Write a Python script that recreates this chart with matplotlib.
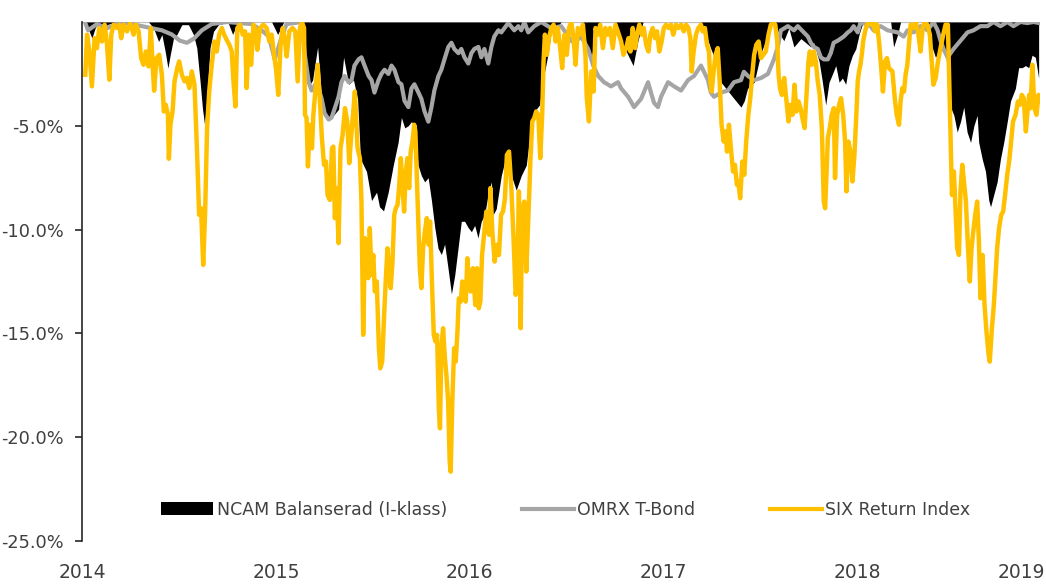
import matplotlib
matplotlib.use("Agg")
import matplotlib.pyplot as plt
from matplotlib.patches import Patch
from matplotlib.lines import Line2D

# ---------------- data (decimal year, drawdown in %) ----------------
ncam_x = [2014.000, 2014.017, 2014.051, 2014.068, 2014.086, 2014.112, 2014.129, 2014.171, 2014.343, 2014.369,
          2014.395, 2014.412, 2014.429, 2014.443, 2014.455, 2014.472, 2014.489, 2014.515, 2014.549, 2014.575,
          2014.592, 2014.609, 2014.621, 2014.632, 2014.644, 2014.660, 2014.678, 2014.704, 2014.752, 2014.777,
          2014.803, 2014.978, 2015.009, 2015.040, 2015.133, 2015.148, 2015.169, 2015.189, 2015.215, 2015.236,
          2015.266, 2015.297, 2015.323, 2015.349, 2015.375, 2015.400, 2015.421, 2015.436, 2015.467, 2015.493,
          2015.519, 2015.534, 2015.555, 2015.579, 2015.605, 2015.630, 2015.647, 2015.664, 2015.682, 2015.699,
          2015.716, 2015.733, 2015.750, 2015.767, 2015.785, 2015.802, 2015.819, 2015.836, 2015.853, 2015.870,
          2015.888, 2015.905, 2015.922, 2015.939, 2015.956, 2015.973, 2015.991, 2016.008, 2016.025, 2016.042,
          2016.059, 2016.076, 2016.094, 2016.111, 2016.119, 2016.136, 2016.162, 2016.188, 2016.214, 2016.239,
          2016.265, 2016.291, 2016.317, 2016.342, 2016.359, 2016.377, 2016.404, 2016.420, 2016.435, 2016.471,
          2016.584, 2016.600, 2016.625, 2016.651, 2016.670, 2016.754, 2016.780, 2016.816, 2016.842, 2016.867,
          2016.893, 2017.192, 2017.217, 2017.243, 2017.278, 2017.295, 2017.329, 2017.363, 2017.398, 2017.415,
          2017.432, 2017.466, 2017.501, 2017.537, 2017.562, 2017.578, 2017.619, 2017.645, 2017.671, 2017.707,
          2017.758, 2017.774, 2017.801, 2017.818, 2017.835, 2017.852, 2017.870, 2017.887, 2017.904, 2017.921,
          2017.938, 2017.955, 2017.973, 2017.990, 2018.007, 2018.024, 2018.041, 2018.170, 2018.185, 2018.206,
          2018.221, 2018.350, 2018.376, 2018.401, 2018.427, 2018.453, 2018.470, 2018.479, 2018.496, 2018.513,
          2018.530, 2018.547, 2018.564, 2018.582, 2018.599, 2018.616, 2018.624, 2018.642, 2018.659, 2018.676,
          2018.685, 2018.702, 2018.719, 2018.736, 2018.753, 2018.771, 2018.788, 2018.813, 2018.830, 2018.848,
          2018.865, 2018.882, 2018.899, 2018.916, 2018.933]
ncam_y = [0, 0, -0.77, -0.29, 0, -0.77, -0.13, 0, 0, -0.29,
          -0.94, -0.61, -1.42, -2.22, -1.58, -0.77, -0.61, -0.13, -0.13, -0.61,
          -1.26, -2.87, -4.15, -4.95, -3.67, -1.26, -0.45, -0.13, 0, -0.6,
          0, 0, -0.6, 0, 0, -2.3, -3.1, -2.8, -1.2, -3.7,
          -4.7, -4.5, -4.2, -1.7, -3.0, -2.8, -3.7, -6.6, -7.2, -8.6,
          -8.2, -8.9, -9.1, -8.2, -6.9, -5.8, -4.6, -5.1, -5.0, -4.8,
          -5.0, -6.9, -7.4, -7.7, -7.5, -8.6, -9.9, -10.9, -11.2, -10.7,
          -11.9, -13.1, -12.2, -10.9, -9.6, -9.6, -9.9, -10.1, -9.8, -10.4,
          -9.6, -9.3, -8.3, -7.7, -9.3, -9.0, -7.4, -6.4, -7.4, -8.1,
          -7.4, -6.9, -4.9, -4.2, -4.0, -2.8, -1.5, -0.4, -0.4, 0,
          0, -1.1, -1.8, -0.4, 0, 0, -0.9, -1.6, -2.1, -0.9,
          0, 0, -0.6, -1.3, -2.1, -2.9, -3.3, -3.7, -4.1, -3.8,
          -3.2, -2.9, -1.5, -0.6, 0, -0.3, -0.9, -0.3, -1.2, -0.8,
          -1.2, -1.0, -1.9, -2.9, -4.0, -2.9, -2.5, -2.1, -2.9, -2.7,
          -3.0, -2.1, -1.6, -1.3, -0.6, -0.1, 0, 0, -1.2, -0.6,
          0, 0, -1.0, -1.7, -1.3, -1.5, -2.9, -4.1, -4.5, -5.3,
          -4.8, -4.1, -5.3, -5.8, -5.0, -4.5, -5.8, -6.6, -7.2, -8.6,
          -8.9, -8.3, -7.7, -6.6, -5.8, -4.8, -3.8, -3.2, -2.2, -2.2,
          -2.1, -2.2, -1.6, -1.7, -2.7]

omrx_x = [2014.015, 2014.031, 2014.077, 2014.129, 2014.206, 2014.309, 2014.412, 2014.463, 2014.505, 2014.541,
          2014.577, 2014.618, 2014.669, 2014.746, 2014.875, 2014.927, 2014.963, 2014.994, 2015.030, 2015.055,
          2015.133, 2015.148, 2015.169, 2015.184, 2015.210, 2015.236, 2015.251, 2015.272, 2015.287, 2015.302,
          2015.323, 2015.338, 2015.354, 2015.375, 2015.390, 2015.405, 2015.426, 2015.441, 2015.457, 2015.478,
          2015.493, 2015.508, 2015.529, 2015.544, 2015.560, 2015.580, 2015.596, 2015.611, 2015.632, 2015.647,
          2015.663, 2015.683, 2015.699, 2015.714, 2015.735, 2015.750, 2015.766, 2015.786, 2015.802, 2015.817,
          2015.838, 2015.853, 2015.869, 2015.889, 2015.905, 2015.920, 2015.941, 2015.956, 2015.972, 2015.992,
          2016.008, 2016.023, 2016.044, 2016.059, 2016.075, 2016.095, 2016.111, 2016.126, 2016.147, 2016.162,
          2016.198, 2016.229, 2016.250, 2016.265, 2016.281, 2016.301, 2016.332, 2016.368, 2016.420, 2016.471,
          2016.523, 2016.538, 2016.574, 2016.610, 2016.636, 2016.662, 2016.692, 2016.728, 2016.764, 2016.780,
          2016.816, 2016.847, 2016.883, 2016.919, 2016.934, 2016.950, 2016.970, 2016.986, 2017.022, 2017.053,
          2017.089, 2017.125, 2017.156, 2017.192, 2017.228, 2017.243, 2017.259, 2017.295, 2017.331, 2017.362,
          2017.398, 2017.413, 2017.434, 2017.465, 2017.501, 2017.537, 2017.568, 2017.588, 2017.604, 2017.640,
          2017.671, 2017.691, 2017.722, 2017.743, 2017.758, 2017.774, 2017.794, 2017.810, 2017.825, 2017.846,
          2017.861, 2017.876, 2017.897, 2017.928, 2017.949, 2017.964, 2017.979, 2018.000, 2018.015, 2018.067,
          2018.082, 2018.118, 2018.154, 2018.206, 2018.237, 2018.257, 2018.288, 2018.324, 2018.360, 2018.391,
          2018.412, 2018.427, 2018.443, 2018.463, 2018.479, 2018.494, 2018.530, 2018.566, 2018.597, 2018.633,
          2018.669, 2018.700, 2018.736, 2018.772, 2018.803, 2018.839, 2018.875, 2018.906, 2018.937]
omrx_y = [0, -0.4, -0.1, -0.3, 0, -0.2, -0.4, -0.6, -0.9, -1.0,
          -0.8, -0.4, -0.1, 0, -0.1, -0.4, -0.7, -1.8, -0.7, -0.1,
          0, -1.5, -2.9, -3.3, -2.9, -3.7, -4.4, -4.7, -4.6, -4.2,
          -3.6, -2.9, -2.6, -2.9, -2.8, -2.1, -1.8, -1.7, -2.1, -2.6,
          -2.8, -3.4, -2.8, -2.5, -2.3, -2.5, -2.1, -2.3, -2.9, -3.0,
          -3.8, -4.1, -3.2, -3.0, -3.4, -3.7, -4.3, -4.8, -4.1, -3.3,
          -2.6, -2.3, -1.8, -1.2, -1.0, -1.3, -1.5, -1.3, -1.7, -2.0,
          -1.5, -1.3, -1.2, -1.7, -1.3, -2.0, -1.2, -0.7, -0.4, -0.5,
          -0.05, -0.4, -0.2, -0.4, 0, -0.5, -0.2, 0, -0.3, -0.2,
          -0.9, -1.0, -0.7, -1.3, -2.1, -2.6, -2.9, -3.1, -2.9, -3.2,
          -3.6, -4.1, -3.7, -2.9, -3.4, -3.9, -4.1, -3.6, -2.9, -3.1,
          -3.3, -2.8, -2.6, -2.1, -2.8, -3.4, -3.6, -3.4, -3.3, -2.9,
          -2.8, -2.4, -2.6, -2.8, -2.7, -2.5, -1.8, -1.2, -0.4, -0.2,
          -0.4, -0.2, -0.5, -0.7, -1.0, -1.2, -1.3, -1.7, -1.8, -1.8,
          -1.5, -1.0, -0.9, -0.7, -0.5, -0.4, -0.2, -0.5, 0, -0.2,
          -0.4, -0.2, -0.4, -0.5, -0.7, -0.4, -0.5, -0.2, -0.4, 0,
          -0.4, -0.9, -1.3, -1.7, -1.5, -1.3, -0.9, -0.5, -0.4, -0.2,
          -0.2, 0, -0.2, 0, -0.2, 0, -0.05, 0, -0.05]

six_x = [
    2014.017, 2014.026, 2014.038, 2014.051, 2014.065, 2014.077, 2014.089, 2014.103, 2014.117, 2014.129,
    2014.141, 2014.151, 2014.163, 2014.180, 2014.192, 2014.202, 2014.215, 2014.232, 2014.249, 2014.266,
    2014.278, 2014.292, 2014.305, 2014.317, 2014.329, 2014.343, 2014.355, 2014.364, 2014.372, 2014.384,
    2014.398, 2014.412, 2014.422, 2014.432, 2014.443, 2014.448, 2014.456, 2014.467, 2014.477, 2014.491,
    2014.501, 2014.515, 2014.529, 2014.541, 2014.553, 2014.566, 2014.580, 2014.592, 2014.604, 2014.614,
    2014.625, 2014.635, 2014.645, 2014.656, 2014.669, 2014.683, 2014.695, 2014.707, 2014.721,
    2014.733, 2014.746, 2014.760, 2014.772, 2014.781, 2014.791, 2014.801, 2014.815, 2014.829, 2014.841,
    2014.849, 2014.860, 2014.872, 2014.884, 2014.897, 2014.904, 2014.918, 2014.935, 2014.952, 2014.966,
    2014.978, 2014.990, 2015.000, 2015.012, 2015.024, 2015.035, 2015.047, 2015.055, 2015.069, 2015.086,
    2015.100, 2015.112, 2015.124, 2015.134, 2015.145, 2015.150, 2015.158, 2015.165, 2015.175, 2015.186,
    2015.193, 2015.203, 2015.215, 2015.227, 2015.237, 2015.248, 2015.258, 2015.266, 2015.278, 2015.289,
    2015.296, 2015.304, 2015.313, 2015.323, 2015.333, 2015.344, 2015.356, 2015.368, 2015.378, 2015.390,
    2015.399,
    2015.407, 2015.421, 2015.433, 2015.441, 2015.450, 2015.459, 2015.467, 2015.476, 2015.484, 2015.493,
    2015.502, 2015.510, 2015.520, 2015.531, 2015.538, 2015.548, 2015.558, 2015.567, 2015.575, 2015.584,
    2015.592, 2015.601, 2015.610, 2015.618, 2015.627, 2015.635, 2015.644, 2015.653, 2015.661, 2015.670,
    2015.678, 2015.687, 2015.695, 2015.704, 2015.713, 2015.719, 2015.726, 2015.733, 2015.742, 2015.750,
    2015.759, 2015.768, 2015.778, 2015.788, 2015.795, 2015.805, 2015.814, 2015.822, 2015.831, 2015.840,
    2015.846, 2015.853, 2015.862, 2015.870, 2015.879, 2015.888, 2015.896, 2015.901, 2015.910, 2015.919,
    2015.927, 2015.936, 2015.943, 2015.953, 2015.961, 2015.970, 2015.979, 2015.987, 2015.996, 2016.004,
    2016.016, 2016.028, 2016.037, 2016.046, 2016.054, 2016.063, 2016.073, 2016.085,
    2016.099, 2016.106, 2016.116, 2016.128, 2016.140, 2016.150, 2016.161, 2016.171, 2016.181, 2016.191,
    2016.202, 2016.214, 2016.226, 2016.236, 2016.243, 2016.253, 2016.262, 2016.270, 2016.281, 2016.291,
    2016.301, 2016.312, 2016.322, 2016.332, 2016.342, 2016.353, 2016.363, 2016.373, 2016.380, 2016.387,
    2016.397, 2016.408, 2016.420, 2016.432, 2016.442, 2016.454, 2016.466, 2016.476, 2016.488, 2016.500,
    2016.511, 2016.523, 2016.535, 2016.545, 2016.557, 2016.569, 2016.583, 2016.596, 2016.603, 2016.614,
    2016.626, 2016.638, 2016.648, 2016.660, 2016.672, 2016.686, 2016.699, 2016.711, 2016.723, 2016.737,
    2016.751, 2016.763, 2016.780, 2016.792, 2016.806,
    2016.818, 2016.828, 2016.840, 2016.852, 2016.862, 2016.874, 2016.886, 2016.897, 2016.909, 2016.921,
    2016.931, 2016.943, 2016.955, 2016.965, 2016.977, 2016.989, 2017.000, 2017.012, 2017.024, 2017.037,
    2017.049, 2017.063, 2017.075, 2017.089, 2017.103, 2017.115, 2017.127, 2017.137, 2017.144, 2017.154,
    2017.166, 2017.178, 2017.192, 2017.200, 2017.212, 2017.223, 2017.233, 2017.240, 2017.247, 2017.257,
    2017.267, 2017.278, 2017.288, 2017.298, 2017.309, 2017.319, 2017.326, 2017.336, 2017.346, 2017.357,
    2017.367, 2017.377, 2017.384, 2017.394, 2017.405, 2017.415, 2017.425, 2017.436, 2017.446, 2017.456,
    2017.466, 2017.477,
    2017.489, 2017.501, 2017.513, 2017.526, 2017.540, 2017.552, 2017.564, 2017.575, 2017.585, 2017.592,
    2017.599, 2017.609, 2017.621, 2017.633, 2017.643, 2017.653, 2017.664, 2017.674, 2017.684, 2017.695,
    2017.705, 2017.715, 2017.726, 2017.736, 2017.746, 2017.753, 2017.763, 2017.774, 2017.784, 2017.794,
    2017.804, 2017.815, 2017.825, 2017.832, 2017.839, 2017.846, 2017.856, 2017.866, 2017.877, 2017.883,
    2017.894, 2017.904, 2017.914, 2017.925, 2017.935, 2017.942, 2017.952, 2017.962, 2017.973, 2017.983,
    2017.993, 2018.000, 2018.007, 2018.014, 2018.021, 2018.028, 2018.038, 2018.048, 2018.058, 2018.069,
    2018.079, 2018.089, 2018.100, 2018.110, 2018.120, 2018.130, 2018.141, 2018.151, 2018.161,
    2018.179, 2018.191, 2018.201, 2018.213, 2018.221, 2018.230, 2018.239, 2018.247, 2018.256, 2018.264,
    2018.273, 2018.287, 2018.299, 2018.311, 2018.324, 2018.335, 2018.345, 2018.359, 2018.372, 2018.383,
    2018.390, 2018.402, 2018.414, 2018.427, 2018.441, 2018.453, 2018.465, 2018.472, 2018.479, 2018.486,
    2018.496, 2018.505, 2018.513, 2018.522, 2018.530, 2018.539, 2018.548, 2018.558, 2018.568, 2018.578,
    2018.587, 2018.596, 2018.606, 2018.616, 2018.625, 2018.633, 2018.644, 2018.654, 2018.664, 2018.675,
    2018.681, 2018.692, 2018.702, 2018.711, 2018.719, 2018.729, 2018.740, 2018.750, 2018.760, 2018.771,
    2018.781, 2018.791, 2018.801, 2018.814, 2018.826, 2018.836, 2018.846, 2018.856, 2018.867, 2018.874,
    2018.884, 2018.891, 2018.901, 2018.911, 2018.922, 2018.932, 2018.939]
six_y = [
    -2.54, -0.61, -1.42, -3.10, -0.78, -1.26, -0.29, -0.94, -0.13, -1.10,
    -2.78, -0.61, -0.13, -0.29, -0.13, -0.78, -0.13, -0.45, -0.05, -0.61,
    -0.13, -0.45, -1.74, -2.06, -1.42, -2.14, -0.29, -2.06, -3.31, -1.74,
    -1.58, -2.54, -4.31, -3.99, -4.47, -6.59, -4.95, -4.31, -2.86, -2.22,
    -1.90, -2.54, -2.86, -2.70, -3.18, -2.38, -3.02, -5.92, -9.29, -8.97,
    -11.70, -9.13, -5.11, -3.35, -2.06, -0.94, -1.42, -0.61, -0.29,
    -0.61, -0.86, -1.10, -1.42, -2.86, -4.07, -0.29, -0.13, -0.61, -0.45,
    -3.18, -0.61, -2.06, -0.13, -0.45, -1.34, -0.29, -0.13, -0.29, -0.94,
    -0.61, -1.58, -2.22, -3.51, -1.10, -0.29, -0.94, -1.66, -0.45, -0.29,
    -0.45, -2.86, -0.29, 0.0, -0.29, -4.47, -4.63, -6.96, -4.95, -6.08,
    -4.47, -3.35, -2.06, -3.83, -5.59, -6.88, -6.72, -8.33, -8.57, -6.08,
    -6.00, -9.45, -8.00, -10.65, -6.08, -5.43, -4.15, -4.79, -6.80, -5.27,
    -4.31,
    -3.35, -6.08, -6.56, -8.65, -15.07, -10.41, -10.90, -12.34, -9.93, -12.18,
    -11.22, -12.98, -12.50, -15.71, -16.68, -16.36, -14.11, -12.34, -10.90, -12.02,
    -12.82, -11.54, -9.29, -8.97, -8.81, -8.00, -6.56, -8.00, -9.13, -7.20,
    -6.56, -8.00, -6.24, -5.76, -4.95, -5.27, -7.36, -9.29, -11.86, -12.82,
    -10.90, -10.09, -9.45, -10.73, -9.61, -12.66, -15.07, -15.39, -15.07, -18.61,
    -19.57, -15.71, -14.75, -16.03, -17.00, -18.28, -21.18, -21.66, -18.12, -15.71,
    -16.36, -14.91, -13.31, -13.47, -12.50, -13.31, -13.47, -11.38, -12.50, -12.98,
    -11.86, -13.63, -11.86, -13.79, -13.47, -11.22, -10.25, -9.13,
    -10.25, -8.00, -10.09, -11.54, -10.73, -11.22, -9.29, -9.13, -8.49, -6.40,
    -6.24, -8.00, -10.58, -13.14, -12.82, -8.16, -14.75, -8.97, -8.65, -12.02,
    -9.61, -6.72, -4.79, -4.63, -4.31, -4.47, -6.56, -4.47, -1.90, -0.61,
    -1.58, -0.78, -0.29, -0.13, -0.94, -0.29, -1.26, -2.22, -0.61, -1.58,
    -0.29, 0.0, -0.78, -2.06, -0.29, -0.61, -0.13, -1.58, -3.67, -4.79,
    -2.38, -3.35, -0.29, -0.61, -0.13, -1.26, -0.29, -0.61, -0.29, -1.26,
    -0.13, -0.45, -0.94, -1.58, -1.26,
    -0.78, -1.42, -0.29, -1.26, -0.61, -0.13, -0.61, -0.29, -1.10, -1.42,
    -0.61, -0.29, -0.78, -0.45, -1.42, -0.94, -0.29, -0.13, -0.29, -0.13,
    -0.61, -0.13, -0.29, -0.13, -0.45, -0.13, -0.29, -0.78, -2.38, -1.42,
    -0.61, -0.29, -0.13, -0.45, -0.29, -1.10, -1.42, -2.86, -3.35, -2.38,
    -1.58, -1.26, -2.86, -4.95, -5.76, -5.27, -6.24, -4.95, -6.08, -7.20,
    -6.88, -7.84, -7.68, -8.49, -6.72, -7.36, -5.76, -4.47, -3.67, -2.54,
    -1.58, -1.10,
    -0.94, -1.74, -1.58, -1.42, -0.61, -0.13, 0.0, -0.13, -0.94, -2.54,
    -3.18, -3.51, -2.70, -3.83, -4.79, -3.99, -4.47, -3.02, -4.31, -3.83,
    -4.15, -4.63, -5.11, -3.51, -1.90, -1.42, -2.06, -1.42, -1.90, -2.86,
    -3.51, -5.11, -8.65, -8.97, -7.36, -5.59, -5.11, -4.47, -4.15, -7.52,
    -4.47, -3.99, -3.67, -4.47, -5.76, -8.16, -5.76, -6.24, -7.68, -6.40,
    -4.47, -2.86, -2.38, -2.06, -1.58, -0.94, -0.45, -0.13, 0.0, -0.13,
    0.0, -0.45, -0.13, -0.94, -2.06, -3.35, -1.90, -1.74, -2.22,
    -2.38, -3.67, -4.47, -4.95, -3.83, -3.18, -3.35, -2.54, -2.06, -1.10,
    -0.13, -0.29, 0.0, -0.45, -1.42, -0.29, 0.0, -0.13, -0.61, -2.06,
    -3.02, -2.70, -1.90, -1.26, -0.61, -0.13, -0.13, -2.86, -5.76, -8.33,
    -7.20, -9.13, -10.90, -11.22, -8.16, -6.88, -7.68, -8.65, -10.73, -12.50,
    -10.90, -10.09, -9.29, -8.65, -10.58, -13.31, -11.22, -13.63, -14.91, -16.03,
    -16.36, -14.75, -13.63, -12.18, -10.90, -9.93, -9.29, -9.13, -8.33, -7.36,
    -6.72, -5.76, -4.79, -4.47, -3.83, -3.99, -3.51, -3.67, -5.27, -4.47,
    -3.51, -4.15, -2.06, -4.15, -4.47, -3.51, -3.83]

series_names = ["NCAM Balanserad (I-klass)", "OMRX T-Bond", "SIX Return Index"]
series_colors = ["#000000", "#A5A5A5", "#FFC000"]
ytick_values = [-5, -10, -15, -20, -25]
ytick_labels = ["-5.0%", "-10.0%", "-15.0%", "-20.0%", "-25.0%"]
year_labels = ["2014", "2015", "2016", "2017", "2018", "2019"]
year_tick_pos = [2014.0, 2015.0, 2016.0, 2017.0, 2018.0, 2018.845]

# ---------------- figure ----------------
plt.rcParams['font.family'] = ['DejaVu Sans']
text_color = "#404040"

fig = plt.figure(figsize=(10.46, 5.84), dpi=100)
ax = fig.add_axes([82 / 1046, 1 - 541 / 584, 958 / 1046, 519 / 584])

ax.axhline(0, color="#BFBFBF", lw=1.6, zorder=0.5)
ax.fill_between(ncam_x, ncam_y, 0, color=series_colors[0], linewidth=0, zorder=1)
ax.plot(omrx_x, omrx_y, color=series_colors[1], lw=3.0, solid_joinstyle="round", zorder=2)
ax.plot(six_x, six_y, color=series_colors[2], lw=3.2, solid_joinstyle="round", zorder=3)

ax.set_xlim(2014.0, 2018.94)
ax.set_ylim(-25, 0)

for s in ["top", "right", "bottom"]:
    ax.spines[s].set_visible(False)
ax.spines["left"].set_color("#262626")
ax.spines["left"].set_linewidth(1.2)

ax.set_yticks(ytick_values)
ax.set_yticklabels(ytick_labels)
ax.tick_params(axis="y", direction="out", length=5, width=1.2, color="#262626",
               pad=8, labelsize=12.8, labelcolor=text_color)

ax.set_xticks(year_tick_pos)
ax.set_xticklabels(year_labels)
ax.tick_params(axis="x", length=0, pad=16, labelsize=13.5, labelcolor=text_color)

handles = [Patch(facecolor=series_colors[0], edgecolor="none"),
           Line2D([0], [0], color=series_colors[1], lw=3.0),
           Line2D([0], [0], color=series_colors[2], lw=3.0)]
leg = ax.legend(handles, series_names, loc="center", bbox_to_anchor=(0.505, 0.06),
                ncol=3, frameon=False, fontsize=12.5, handlelength=3.0, handleheight=0.8,
                handletextpad=0.2, columnspacing=4.3, labelcolor=text_color)

fig.savefig("out.png", dpi=100)
